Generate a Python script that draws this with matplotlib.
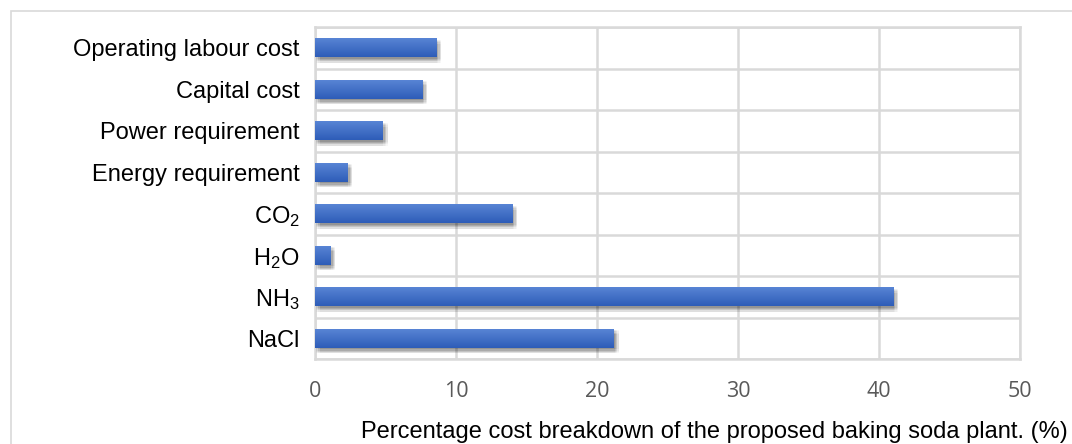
import numpy as np
import matplotlib
matplotlib.use("Agg")
import matplotlib.pyplot as plt
import matplotlib.patheffects as pe
from matplotlib.patches import Rectangle
from matplotlib.colors import LinearSegmentedColormap

plt.rcParams['font.family'] = ['Liberation Sans', 'DejaVu Sans']
plt.rcParams['mathtext.default'] = 'regular'

# data, bottom to top as drawn
categories = ['NaCl', 'NH$_3$', 'H$_2$O', 'CO$_2$', 'Energy requirement',
              'Power requirement', 'Capital cost', 'Operating labour cost']
values = [21.2, 41.0, 1.1, 14.0, 2.3, 4.8, 7.6, 8.6]
xticks = [0, 10, 20, 30, 40, 50]
xlabel = 'Percentage cost breakdown of the proposed baking soda plant. (%)'

W, H = 1072, 444
fig = plt.figure(figsize=(W / 100, H / 100), dpi=100)
ax = fig.add_axes([315 / W, 1 - 359 / H, (1020 - 315) / W, (359 - 27) / H])

grid_col = '#d9d9d9'
y = np.arange(len(categories))
bars = ax.barh(y, values, height=0.46, color='#4472c4', zorder=3)

# soft drop shadow (stacked faint shadows) + vertical gradient on each bar
shadow = [pe.SimplePatchShadow(offset=(dx, -dy), shadow_rgbFace='black', alpha=0.03)
          for dx in (0.5, 1.5, 2.5, 3.5) for dy in (1, 2, 3, 4)]
grad = LinearSegmentedColormap.from_list('g', ['#2e5db8', '#5a86d6'])
for b in bars:
    b.set_path_effects(shadow + [pe.Normal()])
    x0, y0, w, h = b.get_x(), b.get_y(), b.get_width(), b.get_height()
    im = ax.imshow(np.linspace(0, 1, 50).reshape(-1, 1), cmap=grad, aspect='auto',
                   extent=[x0, x0 + w, y0, y0 + h], origin='lower', zorder=4)
    im.set_clip_path(b)

ax.set_xlim(0, 50)
ax.set_ylim(-0.5, len(categories) - 0.5)
ax.set_xticks(xticks)
ax.set_xticklabels([str(t) for t in xticks], family=['Open Sans', 'DejaVu Sans'],
                   fontsize=15.5, color='#595959')
ax.set_yticks(y)
ax.set_yticklabels(categories, fontsize=17, color='black')
ax.set_yticks(np.arange(len(categories) + 1) - 0.5, minor=True)
ax.tick_params(axis='both', which='both', length=0)
ax.tick_params(axis='x', pad=16)
ax.tick_params(axis='y', pad=11)

ax.grid(axis='x', which='major', color=grid_col, linewidth=1.8, zorder=0)
ax.grid(axis='y', which='minor', color=grid_col, linewidth=1.8, zorder=0)
for s in ax.spines.values():
    s.set_color(grid_col)
    s.set_linewidth(1.8)

fig.text(1068 / W, 1 - 432 / H, xlabel, ha='right', va='center', fontsize=17)

# outer chart border
fig.add_artist(Rectangle((11 / W, -0.2), 1.5, 1.2 - 11 / H, transform=fig.transFigure,
                         fill=False, edgecolor=grid_col, linewidth=1.2))

fig.savefig('out.png', dpi=100)
